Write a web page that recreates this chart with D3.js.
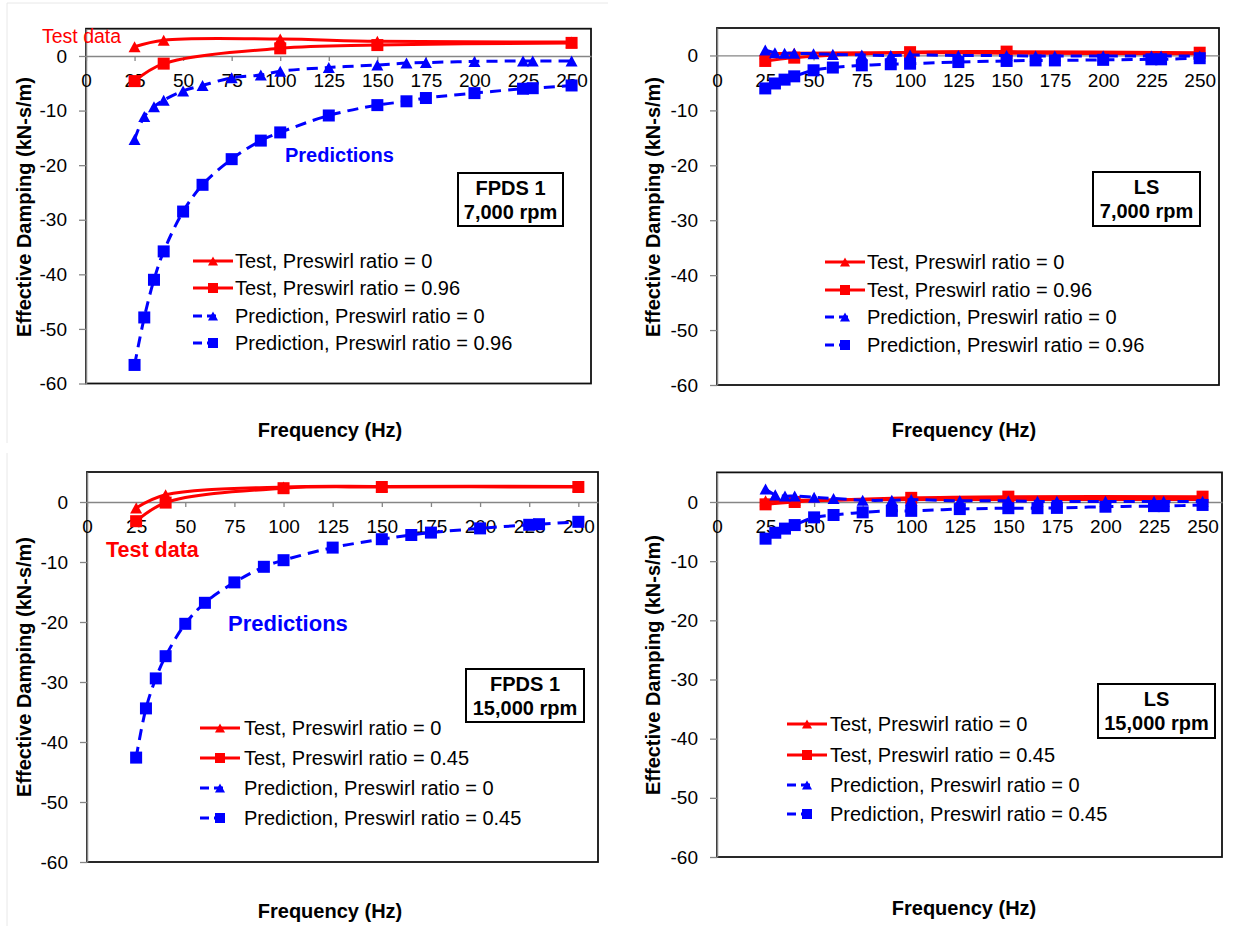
<!DOCTYPE html>
<html>
<head>
<meta charset="utf-8">
<script src="https://cdn.jsdelivr.net/npm/d3@7"></script>
<style>
  body { margin: 0; background: #fff; }
  svg { display: block; }
  text { font-family: "Liberation Sans", Arial, sans-serif; }
</style>
</head>
<body>
<div id="chart"></div>
<script>
// frequencies (Hz)
const freqTest = [25, 40, 100, 150, 250];
const freqPred = [25, 30, 35, 40, 50, 60, 75, 90, 100, 125, 150, 165, 175, 200, 225, 230, 250];

const xTicks = [0, 25, 50, 75, 100, 125, 150, 175, 200, 225, 250];
const yTicks = [0, -10, -20, -30, -40, -50, -60];

// FPDS 1, 7,000 rpm
const fpds7kTest0 = [1.7, 2.9, 3.1, 2.7, 2.55];
const fpds7kTest96 = [-4.6, -1.4, 1.4, 2.0, 2.4];
const fpds7kPred0 = [-15.3, -11.1, -9.3, -8.1, -6.4, -5.4, -4.0, -3.5, -2.8, -2.1, -1.65, -1.3, -1.2, -1.0, -0.9, -0.9, -0.9];
const fpds7kPred96 = [-56.6, -47.9, -41.0, -35.8, -28.5, -23.6, -18.9, -15.5, -14.0, -10.9, -9.0, -8.3, -7.7, -6.8, -6.0, -5.9, -5.4];

// LS, 7,000 rpm
const ls7kTest0 = [0.3, 0.4, 0.5, 0.4, 0.3];
const ls7kTest96 = [-1.0, -0.4, 0.6, 0.7, 0.5];
const ls7kPred0 = [1.0, 0.5, 0.4, 0.4, 0.3, 0.2, 0.1, 0.0, 0.1, 0.0, 0.0, -0.1, -0.1, -0.1, -0.1, -0.1, -0.1];
const ls7kPred96 = [-6.0, -5.1, -4.4, -3.8, -2.7, -2.2, -1.8, -1.6, -1.5, -1.2, -1.0, -0.9, -0.9, -0.8, -0.7, -0.7, -0.5];

// FPDS 1, 15,000 rpm
const fpds15kTest0 = [-1.0, 1.2, 2.5, 2.6, 2.6];
const fpds15kTest45 = [-3.2, -0.1, 2.3, 2.5, 2.5];
const fpds15kPred0 = [];
const fpds15kPred45 = [-42.6, -34.4, -29.4, -25.7, -20.3, -16.8, -13.4, -10.8, -9.7, -7.6, -6.2, -5.5, -5.1, -4.4, -3.8, -3.7, -3.3];

// LS, 15,000 rpm
const ls15kTest0 = [0.2, 0.3, 0.4, 0.4, 0.4];
const ls15kTest45 = [-0.4, 0.0, 0.7, 0.9, 0.9];
const ls15kPred0 = [2.2, 1.2, 1.0, 1.0, 0.8, 0.6, 0.3, 0.3, 0.4, 0.2, 0.2, 0.1, 0.1, 0.1, 0.1, 0.1, 0.1];
const ls15kPred45 = [-6.2, -5.2, -4.5, -3.9, -2.6, -2.2, -1.75, -1.5, -1.5, -1.2, -1.05, -1.05, -1.0, -0.8, -0.7, -0.7, -0.5];

const names96 = ["Test, Preswirl ratio = 0", "Test, Preswirl ratio = 0.96",
  "Prediction, Preswirl ratio = 0", "Prediction, Preswirl ratio = 0.96"];
const names45 = ["Test, Preswirl ratio = 0", "Test, Preswirl ratio = 0.45",
  "Prediction, Preswirl ratio = 0", "Prediction, Preswirl ratio = 0.45"];

const red = "#ff0000", blue = "#0000ff";
const styles = [
  { color: red, dash: null, shape: "tri", freq: freqTest },
  { color: red, dash: null, shape: "sq", freq: freqTest },
  { color: blue, dash: "11,7", shape: "tri", freq: freqPred },
  { color: blue, dash: "11,7", shape: "sq", freq: freqPred }
];

const width = 1233, height = 926;
const svg = d3.select("#chart").append("svg")
  .attr("width", width).attr("height", height);

// faint chart-area borders seen on the left charts
svg.append("path").attr("d", "M7,443V3H608").attr("fill", "none").attr("stroke", "#e8e8e8");
svg.append("path").attr("d", "M7,453V926").attr("fill", "none").attr("stroke", "#e8e8e8");

const panels = [
  { left: 86, right: 591, top: 28.7, bottom: 383.5,
    data: [fpds7kTest0, fpds7kTest96, fpds7kPred0, fpds7kPred96], names: names96,
    legend: { x: 193, tx: 235, rows: [261, 288, 316, 343] },
    box: { x: 458, y: 173, w: 105, h: 53, lines: ["FPDS 1", "7,000 rpm"] },
    yTitle: [31, 207], xTitle: [330, 430],
    notes: [
      { text: "Test data", x: 42, y: 36, color: red, weight: "normal", size: 19.5 },
      { text: "Predictions", x: 285, y: 155, color: blue, weight: "bold", size: 20 }
    ] },
  { left: 717, right: 1219, top: 28, bottom: 385,
    data: [ls7kTest0, ls7kTest96, ls7kPred0, ls7kPred96], names: names96,
    legend: { x: 825, tx: 867, rows: [262, 290, 317, 345] },
    box: { x: 1093, y: 172, w: 107, h: 54, lines: ["LS", "7,000 rpm"] },
    yTitle: [660, 207], xTitle: [964, 430], notes: [] },
  { left: 87, right: 598, top: 472, bottom: 862,
    data: [fpds15kTest0, fpds15kTest45, fpds15kPred0, fpds15kPred45], names: names45,
    legend: { x: 200, tx: 244, rows: [728, 758, 788, 818] },
    box: { x: 466, y: 669, w: 118, h: 53, lines: ["FPDS 1", "15,000 rpm"] },
    yTitle: [31, 667], xTitle: [330, 911],
    notes: [
      { text: "Test data", x: 106, y: 549, color: red, weight: "bold", size: 21.5 },
      { text: "Predictions", x: 228, y: 623, color: blue, weight: "bold", size: 22 }
    ] },
  { left: 717, right: 1222, top: 472.4, bottom: 857,
    data: [ls15kTest0, ls15kTest45, ls15kPred0, ls15kPred45], names: names45,
    legend: { x: 787, tx: 830, rows: [724, 755, 785, 814] },
    box: { x: 1098, y: 684, w: 117, h: 54, lines: ["LS", "15,000 rpm"] },
    yTitle: [660, 665], xTitle: [964, 908], notes: [] }
];

function drawMarker(g, shape, cx, cy, s, color) {
  if (shape === "tri") {
    const w = s, h = s * 0.92;
    g.append("path")
      .attr("d", `M${cx},${cy - h / 2}L${cx + w / 2},${cy + h / 2}L${cx - w / 2},${cy + h / 2}Z`)
      .attr("fill", color);
  } else {
    g.append("rect").attr("x", cx - s / 2).attr("y", cy - s / 2)
      .attr("width", s).attr("height", s).attr("fill", color);
  }
}

const fmt = d => String(d);

panels.forEach(p => {
  const x = d3.scaleLinear().domain([0, 260]).range([p.left, p.right]);
  const y = d3.scaleLinear().domain([5, -60]).range([p.top, p.bottom]);
  const g = svg.append("g");

  // plot area border
  g.append("rect")
    .attr("x", p.left).attr("y", p.top)
    .attr("width", p.right - p.left).attr("height", p.bottom - p.top)
    .attr("fill", "none").attr("stroke", "#111").attr("stroke-width", 1.8);

  // y axis
  const ya = g.append("g")
    .attr("transform", `translate(${p.left},0)`)
    .call(d3.axisLeft(y).tickValues(yTicks).tickFormat(fmt).tickSize(7).tickSizeOuter(0).tickPadding(12));
  ya.select(".domain").attr("stroke", "#868686").attr("stroke-width", 1.5);
  ya.selectAll(".tick line").attr("stroke", "#868686").attr("stroke-width", 1.3);
  ya.selectAll(".tick text").attr("font-size", 19).attr("fill", "#000")
    .attr("font-family", '"Liberation Sans", Arial, sans-serif');

  // x axis crossing at zero
  const xa = g.append("g")
    .attr("transform", `translate(0,${y(0)})`)
    .call(d3.axisBottom(x).tickValues(xTicks).tickFormat(fmt).tickSize(5).tickSizeOuter(0).tickPadding(13));
  xa.select(".domain").attr("stroke", "#868686").attr("stroke-width", 1.3);
  xa.selectAll(".tick line").attr("stroke", "#868686").attr("stroke-width", 1.3);
  xa.selectAll(".tick text").attr("font-size", 19).attr("fill", "#000")
    .attr("font-family", '"Liberation Sans", Arial, sans-serif');

  // series
  p.data.forEach((vals, i) => {
    const st = styles[i];
    const pts = vals.map((v, j) => [st.freq[j], v]);
    if (!pts.length) return;
    const line = d3.line().x(d => x(d[0])).y(d => y(d[1])).curve(d3.curveCatmullRom.alpha(0.5));
    g.append("path").datum(pts)
      .attr("d", line)
      .attr("fill", "none").attr("stroke", st.color).attr("stroke-width", 3)
      .attr("stroke-dasharray", st.dash);
    const mg = g.append("g");
    pts.forEach(d => drawMarker(mg, st.shape, x(d[0]), y(d[1]), 12, st.color));
  });

  // legend
  const lg = g.append("g");
  p.names.forEach((name, i) => {
    const st = styles[i];
    const ry = p.legend.rows[i];
    const x0 = p.legend.x;
    if (st.dash) {
      lg.append("line").attr("x1", x0).attr("x2", x0 + 26).attr("y1", ry).attr("y2", ry)
        .attr("stroke", st.color).attr("stroke-width", 3).attr("stroke-dasharray", "9,5");
    } else {
      lg.append("line").attr("x1", x0).attr("x2", x0 + 40).attr("y1", ry).attr("y2", ry)
        .attr("stroke", st.color).attr("stroke-width", 3);
    }
    drawMarker(lg, st.shape, x0 + 20, ry, 10, st.color);
    lg.append("text").attr("x", p.legend.tx).attr("y", ry).attr("dy", "0.35em")
      .attr("font-size", 20).attr("fill", "#000").text(name);
  });

  // label box
  const b = p.box;
  g.append("rect").attr("x", b.x).attr("y", b.y).attr("width", b.w).attr("height", b.h)
    .attr("fill", "#fff").attr("stroke", "#000").attr("stroke-width", 2);
  b.lines.forEach((t, i) => {
    g.append("text").attr("x", b.x + b.w / 2).attr("y", b.y + 15 + i * 24).attr("dy", "0.35em")
      .attr("text-anchor", "middle").attr("font-size", 20).attr("font-weight", "bold").text(t);
  });

  // annotations
  p.notes.forEach(n => {
    g.append("text").attr("x", n.x).attr("y", n.y).attr("dy", "0.35em")
      .attr("font-size", n.size).attr("font-weight", n.weight).attr("fill", n.color).text(n.text);
  });

  // axis titles
  g.append("text")
    .attr("transform", `translate(${p.yTitle[0]},${p.yTitle[1]}) rotate(-90)`)
    .attr("text-anchor", "middle").attr("font-size", 20).attr("font-weight", "bold")
    .text("Effective Damping (kN-s/m)");
  g.append("text").attr("x", p.xTitle[0]).attr("y", p.xTitle[1]).attr("dy", "0.35em")
    .attr("text-anchor", "middle").attr("font-size", 20).attr("font-weight", "bold")
    .text("Frequency (Hz)");
});
</script>
</body>
</html>
